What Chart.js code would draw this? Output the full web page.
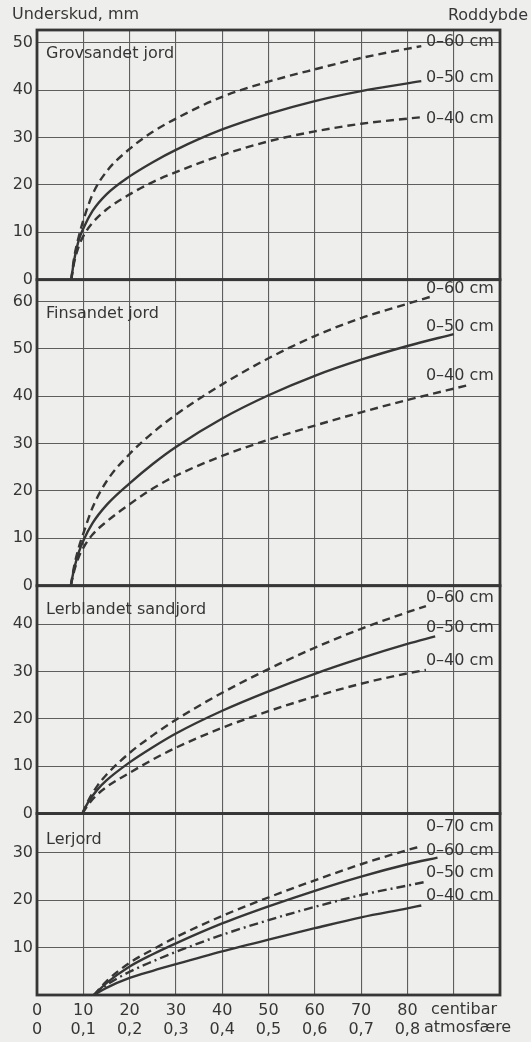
<!DOCTYPE html>
<html>
<head>
<meta charset="utf-8">
<script src="https://cdn.jsdelivr.net/npm/chart.js@4/dist/chart.umd.min.js"></script>
<style>
  html, body { margin: 0; padding: 0; background: #eeeeec; }
  #wrap { width: 531px; height: 1042px; position: relative; }
</style>
</head>
<body>
<div id="wrap"><canvas id="c" width="531" height="1042"></canvas></div>
<script>
// Soil water tension (centibar) and its equivalent in atmospheres
const centibarTicks = [0, 10, 20, 30, 40, 50, 60, 70, 80];
const atmTicks = ['0', '0,1', '0,2', '0,3', '0,4', '0,5', '0,6', '0,7', '0,8'];

const panelNames = ['Grovsandet jord', 'Finsandet jord', 'Lerblandet sandjord', 'Lerjord'];
const panelMax = [52.7, 64.6, 48.1, 38.3];

// Water deficit (mm) vs. tension, per root depth — coarse sandy soil
const grov60 = [[7.4,0],[8,4.5],[9,9],[10,12.5],[12,18],[15,22.8],[20,27.6],[25,31.2],[30,34],[40,38.6],[50,41.8],[60,44.4],[70,46.8],[83,49.3]];
const grov50 = [[7.4,0],[8,4],[9,8.3],[10,10.8],[12,14.5],[15,18],[20,21.8],[25,24.8],[30,27.4],[40,31.7],[50,35],[60,37.7],[70,39.8],[83,41.9]];
const grov40 = [[7.4,0],[8,3.5],[9,7],[10,9.2],[12,12],[15,14.8],[20,18],[25,20.6],[30,22.7],[40,26.3],[50,29.2],[60,31.3],[70,32.9],[83,34.3]];

// Fine sandy soil
const fin60 = [[7.3,0],[8,4],[9,8],[10,11],[12,16.5],[15,22],[20,27.8],[25,32.3],[30,36.1],[40,42.5],[50,48],[60,52.7],[70,56.5],[80,59.5],[85,61]];
const fin50 = [[7.3,0],[8,3.5],[9,7],[10,9.5],[12,13.2],[15,17],[20,21.6],[25,25.7],[30,29.3],[40,35.3],[50,40.2],[60,44.3],[70,47.7],[80,50.6],[90,53.1]];
const fin40 = [[7.3,0],[8,3],[9,6],[10,8],[12,10.8],[15,13.5],[20,17.2],[25,20.5],[30,23.2],[40,27.4],[50,30.8],[60,33.8],[70,36.6],[80,39.2],[93,42.3]];

// Loamy sand
const lerSand60 = [[9.8,0],[11,2.6],[13,5.8],[15,8.2],[20,12.8],[25,16.5],[30,19.8],[40,25.5],[50,30.5],[60,35],[70,39],[80,42.5],[84,43.8]];
const lerSand50 = [[9.8,0],[11,2.3],[13,5],[15,7],[20,10.8],[25,14],[30,16.9],[40,21.7],[50,25.8],[60,29.5],[70,32.8],[80,35.8],[86,37.4]];
const lerSand40 = [[9.8,0],[11,1.8],[13,4],[15,5.6],[20,8.6],[25,11.4],[30,13.9],[40,18.1],[50,21.6],[60,24.7],[70,27.4],[80,29.6],[84,30.3]];

// Clay soil
const ler70 = [[12.3,0],[15,2.9],[20,6.8],[25,9.6],[30,12.2],[40,16.7],[50,20.6],[60,24.2],[70,27.6],[80,30.6],[83,31.4]];
const ler60 = [[12.3,0],[15,2.5],[20,6],[25,8.6],[30,10.9],[40,15.1],[50,18.7],[60,22],[70,25],[80,27.6],[86.5,29]];
const ler50 = [[12.3,0],[15,2.1],[20,4.9],[25,7.1],[30,9.1],[40,12.7],[50,15.8],[60,18.6],[70,21.1],[80,23.1],[83.5,23.8]];
const ler40 = [[12.3,0],[15,1.5],[20,3.6],[25,5.1],[30,6.5],[40,9.2],[50,11.7],[60,14.1],[70,16.4],[80,18.3],[83,18.9]];

// Root-depth labels at the line ends (x in centibar, y in mm on the panel's axis)
const depthLabels = [
  ['y1', '0–60 cm', 84, 50.3], ['y1', '0–50 cm', 84, 42.5], ['y1', '0–40 cm', 84, 34],
  ['y2', '0–60 cm', 84, 62.7], ['y2', '0–50 cm', 84, 54.6], ['y2', '0–40 cm', 84, 44.2],
  ['y3', '0–60 cm', 84, 45.6], ['y3', '0–50 cm', 84, 39.2], ['y3', '0–40 cm', 84, 32.3],
  ['y4', '0–70 cm', 84, 35.5], ['y4', '0–60 cm', 84, 30.5], ['y4', '0–50 cm', 84, 25.7], ['y4', '0–40 cm', 84, 20.9]
];

const INK = '#363636';
const GRID = '#5e5e5e';
const FONT = '"DejaVu Sans", sans-serif';
const DASH = [8, 5];
const DASHDOT = [9, 4, 2, 4];

function toPoints(pairs) { return pairs.map(([x, y]) => ({ x, y })); }
function series(pairs, axis, dash) {
  return {
    data: toPoints(pairs), yAxisID: axis,
    borderColor: INK, borderWidth: 2.4, borderDash: dash || [],
    pointRadius: 0, fill: false, cubicInterpolationMode: 'monotone'
  };
}

const datasets = [
  series(grov60, 'y1', DASH), series(grov50, 'y1'), series(grov40, 'y1', DASH),
  series(fin60, 'y2', DASH), series(fin50, 'y2'), series(fin40, 'y2', DASH),
  series(lerSand60, 'y3', DASH), series(lerSand50, 'y3'), series(lerSand40, 'y3', DASH),
  series(ler70, 'y4', DASH), series(ler60, 'y4'), series(ler50, 'y4', DASHDOT), series(ler40, 'y4')
];

function yAxis(i, hideZero) {
  return {
    type: 'linear', position: 'left', stack: 'panels',
    stackWeight: panelMax[i], min: 0, max: panelMax[i],
    grid: { color: GRID, lineWidth: 1.1, drawTicks: false },
    border: { display: false },
    ticks: {
      stepSize: 10, includeBounds: false, padding: 4, color: INK,
      font: { family: FONT, size: 16 },
      callback: v => (hideZero && v === 0) ? '' : String(v)
    },
    afterFit: s => { s.width = 37; }
  };
}

const panelIds = ['y1', 'y2', 'y3', 'y4'];
const titleOffset = [24, 34, 24, 26];

const decor = {
  id: 'decor',
  beforeDraw(chart) {
    const ctx = chart.ctx;
    ctx.save();
    ctx.fillStyle = '#eeeeec';
    ctx.fillRect(0, 0, chart.width, chart.height);
    ctx.restore();
  },
  afterDatasetsDraw(chart) {
    const { ctx, chartArea, scales } = chart;
    ctx.save();
    // panel frames
    ctx.strokeStyle = INK;
    ctx.lineWidth = 2.8;
    panelIds.forEach(id => {
      const s = scales[id];
      ctx.strokeRect(chartArea.left, s.top, chartArea.right - chartArea.left, s.bottom - s.top);
    });
    ctx.fillStyle = INK;
    ctx.font = '16px ' + FONT;
    ctx.textBaseline = 'middle';
    // panel names
    ctx.textAlign = 'left';
    panelIds.forEach((id, i) => {
      ctx.fillText(panelNames[i], chartArea.left + 9, scales[id].top + titleOffset[i]);
    });
    // root-depth labels
    depthLabels.forEach(([id, text, x, y]) => {
      ctx.fillText(text, scales.x.getPixelForValue(x), scales[id].getPixelForValue(y));
    });
    // headers
    ctx.fillText('Underskud, mm', 12, 15);
    ctx.textAlign = 'right';
    ctx.fillText('Roddybde', chart.width - 3, 16);
    // unit labels under the x axis
    ctx.textAlign = 'left';
    ctx.fillText('centibar', 431, 1010);
    ctx.fillText('atmosfære', 424, 1028);
    ctx.restore();
  }
};

new Chart(document.getElementById('c'), {
  type: 'line',
  data: { datasets },
  options: {
    responsive: false, animation: false,
    layout: { padding: { top: 30, right: 31, left: 0, bottom: 0 } },
    plugins: { legend: { display: false }, tooltip: { enabled: false } },
    scales: {
      x: {
        type: 'linear', min: 0, max: 100,
        grid: { color: GRID, lineWidth: 1.1, drawTicks: false },
        border: { display: false },
        ticks: {
          stepSize: 10, autoSkip: false, maxRotation: 0, padding: 7, color: INK,
          font: { family: FONT, size: 16, lineHeight: 1.15 },
          callback: v => {
            const i = centibarTicks.indexOf(v);
            return i < 0 ? '' : [String(v), atmTicks[i]];
          }
        },
        afterFit: s => { s.height = 47; }
      },
      y4: yAxis(3, true),
      y3: yAxis(2, false),
      y2: yAxis(1, false),
      y1: yAxis(0, false)
    }
  },
  plugins: [decor]
});
</script>
</body>
</html>
